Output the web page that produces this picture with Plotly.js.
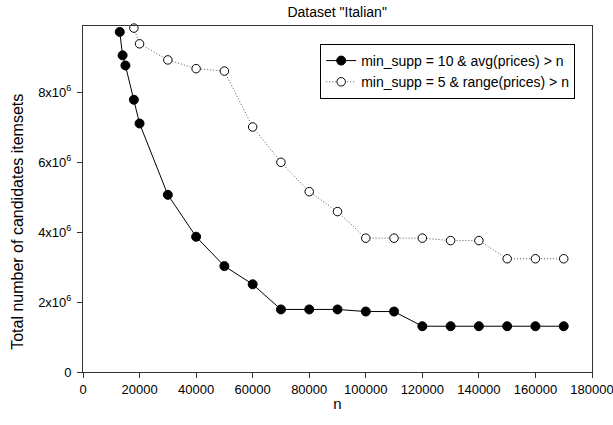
<!DOCTYPE html>
<html>
<head>
<meta charset="utf-8">
<script src="https://cdn.plot.ly/plotly-3.0.1.min.js"></script>
<style>html,body{margin:0;padding:0;background:#fff;}#chart{width:613px;height:425px;}</style>
</head>
<body>
<div id="chart"></div>
<script>
const avgN = [13000, 14000, 15000, 18000, 20000, 30000, 40000, 50000, 60000, 70000, 80000, 90000, 100000, 110000, 120000, 130000, 140000, 150000, 160000, 170000];
const avgVals = [9.73e6, 9.06e6, 8.77e6, 7.79e6, 7.11e6, 5.07e6, 3.87e6, 3.03e6, 2.51e6, 1.79e6, 1.79e6, 1.79e6, 1.73e6, 1.73e6, 1.31e6, 1.31e6, 1.31e6, 1.31e6, 1.31e6, 1.31e6];
const rangeN = [18000, 20000, 30000, 40000, 50000, 60000, 70000, 80000, 90000, 100000, 110000, 120000, 130000, 140000, 150000, 160000, 170000];
const rangeVals = [9.84e6, 9.39e6, 8.93e6, 8.68e6, 8.61e6, 7.01e6, 6.0e6, 5.16e6, 4.59e6, 3.83e6, 3.83e6, 3.83e6, 3.76e6, 3.76e6, 3.24e6, 3.24e6, 3.24e6];
const yTickVals = [0, 2e6, 4e6, 6e6, 8e6];
const yTickText = ['0', '2x10<sup>6</sup>', '4x10<sup>6</sup>', '6x10<sup>6</sup>', '8x10<sup>6</sup>'];
const xTickVals = [0, 20000, 40000, 60000, 80000, 100000, 120000, 140000, 160000, 180000];
const seriesNames = ['min_supp = 10 & avg(prices) > n', 'min_supp = 5 & range(prices) > n'];
const yTitle = 'Total number of candidates itemsets';

const traces = [
  {
    x: avgN, y: avgVals, name: seriesNames[0], type: 'scatter', mode: 'lines+markers',
    line: {color: '#000', width: 1},
    marker: {symbol: 'circle', size: 9, color: '#000', line: {color: '#000', width: 1}},
    cliponaxis: false
  },
  {
    x: rangeN, y: rangeVals, name: seriesNames[1], type: 'scatter', mode: 'lines+markers',
    line: {color: '#555', width: 1, dash: '1px,2px'},
    marker: {symbol: 'circle', size: 8.5, color: '#fff', line: {color: '#000', width: 1}},
    cliponaxis: false
  }
];

const layout = {
  width: 613, height: 425,
  margin: {l: 83, r: 21, t: 26, b: 53},
  paper_bgcolor: '#fff', plot_bgcolor: '#fff',
  font: {family: 'Liberation Sans, Arial, sans-serif', size: 13, color: '#000'},
  title: {text: 'Dataset "Italian"', x: 0.55, xanchor: 'center', y: 0.972, yanchor: 'middle', font: {size: 14}},
  showlegend: true,
  legend: {
    x: 0.466, y: 0.948, xanchor: 'left', yanchor: 'top',
    bgcolor: '#fff', bordercolor: '#000', borderwidth: 1,
    font: {size: 14}, tracegroupgap: 0, itemwidth: 30
  },
  xaxis: {
    range: [0, 180000], tickvals: xTickVals, tickformat: 'd',
    showgrid: false, zeroline: false,
    showline: true, linecolor: '#333', linewidth: 1, mirror: true,
    ticks: 'outside', ticklen: 5, tickcolor: '#333',
    tickfont: {size: 13}, ticklabeloverflow: 'allow',
    title: {text: 'n', font: {size: 15}, standoff: 2}
  },
  yaxis: {
    range: [0, 9.9e6], tickvals: yTickVals, ticktext: yTickText,
    showgrid: false, zeroline: false,
    showline: true, linecolor: '#333', linewidth: 1, mirror: true,
    ticks: 'outside', ticklen: 5, tickcolor: '#333',
    tickfont: {size: 13}, ticklabelstandoff: 3
  },
  annotations: [{
    text: yTitle, xref: 'paper', yref: 'paper', x: 0, y: 0.434,
    xshift: -65, xanchor: 'center', yanchor: 'middle', textangle: -90,
    showarrow: false, font: {size: 16}
  }]
};

Plotly.newPlot('chart', traces, layout, {displayModeBar: false, staticPlot: true});
</script>
</body>
</html>
